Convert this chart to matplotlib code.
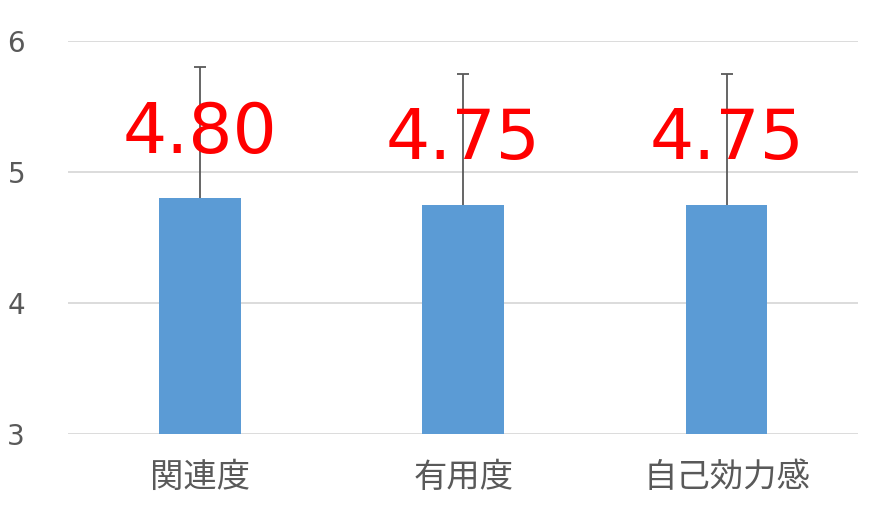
import matplotlib
matplotlib.use("Agg")
import matplotlib.pyplot as plt

categories = ["関連度", "有用度", "自己効力感"]
values = [4.80, 4.75, 4.75]
errors = [1.00, 1.00, 1.00]
labels = ["4.80", "4.75", "4.75"]
yticks = [3, 4, 5, 6]

plt.rcParams['font.family'] = ['Noto Sans CJK JP', 'DejaVu Sans']

fig = plt.figure(figsize=(8.84, 5.24), dpi=100)
ax = fig.add_axes([0.077, 0.172, 0.894, 0.750])

x = list(range(len(categories)))
ax.bar(x, values, width=0.31, color="#5b9bd5", zorder=3)
ax.errorbar(x, values, yerr=[[0]*len(errors), errors], fmt='none',
            ecolor="#595959", elinewidth=1.3, capsize=0, zorder=4)
tops = [v + e for v, e in zip(values, errors)]
ax.plot(x, tops, linestyle='none', marker='_', markersize=8,
        markeredgewidth=1.3, color="#595959", zorder=4)

for xi, v, lab in zip(x, values, labels):
    ax.text(xi, v + 0.345, lab, ha='center', va='baseline', color='#ff0000',
            fontsize=50, family=['DejaVu Sans'], zorder=5)

ax.set_xlim(-0.5, 2.5)
ax.set_ylim(3, 6)
ax.set_yticks(yticks)
ax.set_yticklabels([str(t) for t in yticks])
ax.set_xticks(x)
ax.set_xticklabels(categories)
ax.tick_params(axis='y', length=0, pad=31, labelsize=20, labelcolor='#595959')
ax.tick_params(axis='x', length=0, pad=19, labelsize=24, labelcolor='#595959')
for lab in ax.get_yticklabels():
    lab.set_family(['DejaVu Sans'])
for s in ax.spines.values():
    s.set_visible(False)
ax.yaxis.grid(True, color='#d9d9d9', linewidth=1.3, zorder=0)
ax.set_axisbelow(True)

fig.savefig("out.png", dpi=100)
